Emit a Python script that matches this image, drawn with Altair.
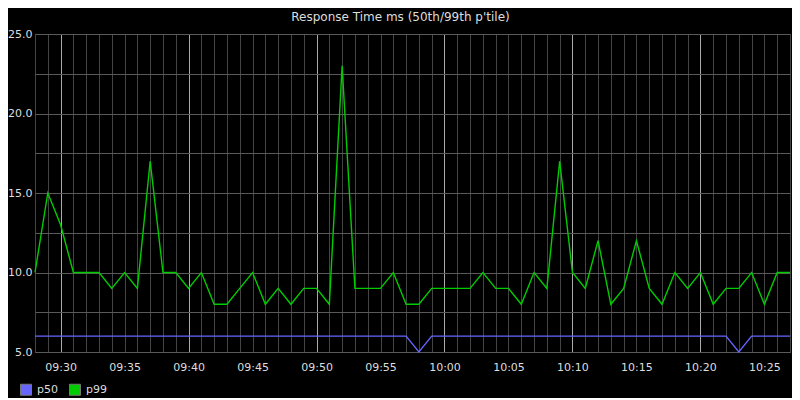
import altair as alt
import pandas as pd

start = "2024-01-01T09:28:00Z"
times = pd.date_range(start, periods=60, freq="min")

p50 = [6, 6, 6, 6, 6, 6, 6, 6, 6, 6,
       6, 6, 6, 6, 6, 6, 6, 6, 6, 6,
       6, 6, 6, 6, 6, 6, 6, 6, 6, 6,
       5, 6, 6, 6, 6, 6, 6, 6, 6, 6,
       6, 6, 6, 6, 6, 6, 6, 6, 6, 6,
       6, 6, 6, 6, 6, 5, 6, 6, 6, 6]

p99 = [10, 15, 13, 10, 10, 10, 9, 10, 9, 17,
       10, 10, 9, 10, 8, 8, 9, 10, 8, 9,
       8, 9, 9, 8, 23, 9, 9, 9, 10, 8,
       8, 9, 9, 9, 9, 10, 9, 9, 8, 10,
       9, 17, 10, 9, 12, 8, 9, 12, 9, 8,
       10, 9, 10, 8, 9, 9, 10, 8, 10, 10]

series = ["p50", "p99"]
colors = ["#6666ff", "#00cc00"]
y_ticks = [5.0, 7.5, 10.0, 12.5, 15.0, 17.5, 20.0, 22.5, 25.0]

tstr = list(times.strftime("%Y-%m-%dT%H:%M:%SZ"))
df = pd.DataFrame({
    "time": tstr * 2,
    "value": p50 + p99,
    "series": ["p50"] * len(p50) + ["p99"] * len(p99),
})

x_vals = [int(t.timestamp() * 1000) for t in times]

FONT = "DejaVu Sans"

x_enc = alt.X(
    "time:T",
    scale=alt.Scale(type="utc", domain=[x_vals[0], x_vals[-1]], nice=False),
    axis=alt.Axis(
        title=None,
        values=x_vals,
        tickCount=200,
        labelExpr="utcminutes(datum.value) % 5 == 0 ? utcFormat(datum.value, '%H:%M') : ''",
        ticks=False,
        domain=False,
        labelFlush=False,
        labelPadding=9,
        labelColor="#dddddd",
        labelFont=FONT,
        labelFontSize=11,
        labelOverlap=False,
        grid=True,
        gridColor={"condition": {"test": "utcminutes(datum.value) % 10 == 0", "value": "#aaaaaa"}, "value": "#444444"},
        gridWidth=1,
    ),
)
y_enc = alt.Y(
    "value:Q",
    scale=alt.Scale(domain=[5, 25], nice=False, zero=False),
    axis=alt.Axis(
        title=None,
        values=y_ticks,
        tickCount=100,
        labelExpr="datum.value % 5 == 0 ? format(datum.value, '.1f') : ''",
        ticks=False,
        domain=False,
        labelPadding=3,
        labelColor="#dddddd",
        labelFont=FONT,
        labelFontSize=11,
        labelOverlap=False,
        grid=True,
        gridColor="#5a5a5a",
        gridWidth=1,
    ),
)

base = alt.Chart(df)

lines = base.mark_line(strokeWidth=1.4, interpolate="linear").encode(
    x=x_enc,
    y=y_enc,
    color=alt.Color("series:N", scale=alt.Scale(domain=series, range=colors), legend=None),
)

legend_layer = base.mark_point(shape="square", filled=True, size=0).encode(
    x=alt.X("time:T"),
    y=alt.Y("value:Q"),
    fill=alt.Fill(
        "series:N",
        scale=alt.Scale(domain=series, range=colors),
        legend=alt.Legend(
            title=None,
            orient="none",
            direction="horizontal",
            legendX=-15,
            legendY=349.5,
            symbolType="square",
            symbolSize=121,
            symbolStrokeColor="#777777",
            symbolStrokeWidth=1,
            symbolOpacity=1,
            labelColor="#dddddd",
            labelFont=FONT,
            labelFontSize=11,
            labelOffset=5,
            columnPadding=9,
            padding=0,
        ),
    ),
)

chart = alt.layer(lines, legend_layer).resolve_scale(
    color="independent", fill="independent"
).properties(
    width=755,
    height=318,
    title=alt.TitleParams(
        "Response Time ms (50th/99th p'tile)",
        font=FONT, fontSize=12, fontWeight="normal", color="#dddddd",
        offset=4, dx=-12,
    ),
    autosize="none",
    padding={"left": 27, "top": 26, "right": 2, "bottom": 46},
    background="#000000",
).configure_view(
    stroke="#555555",
    strokeWidth=1,
)

chart.save("out.html", embed_options={"renderer": "svg", "actions": False})
